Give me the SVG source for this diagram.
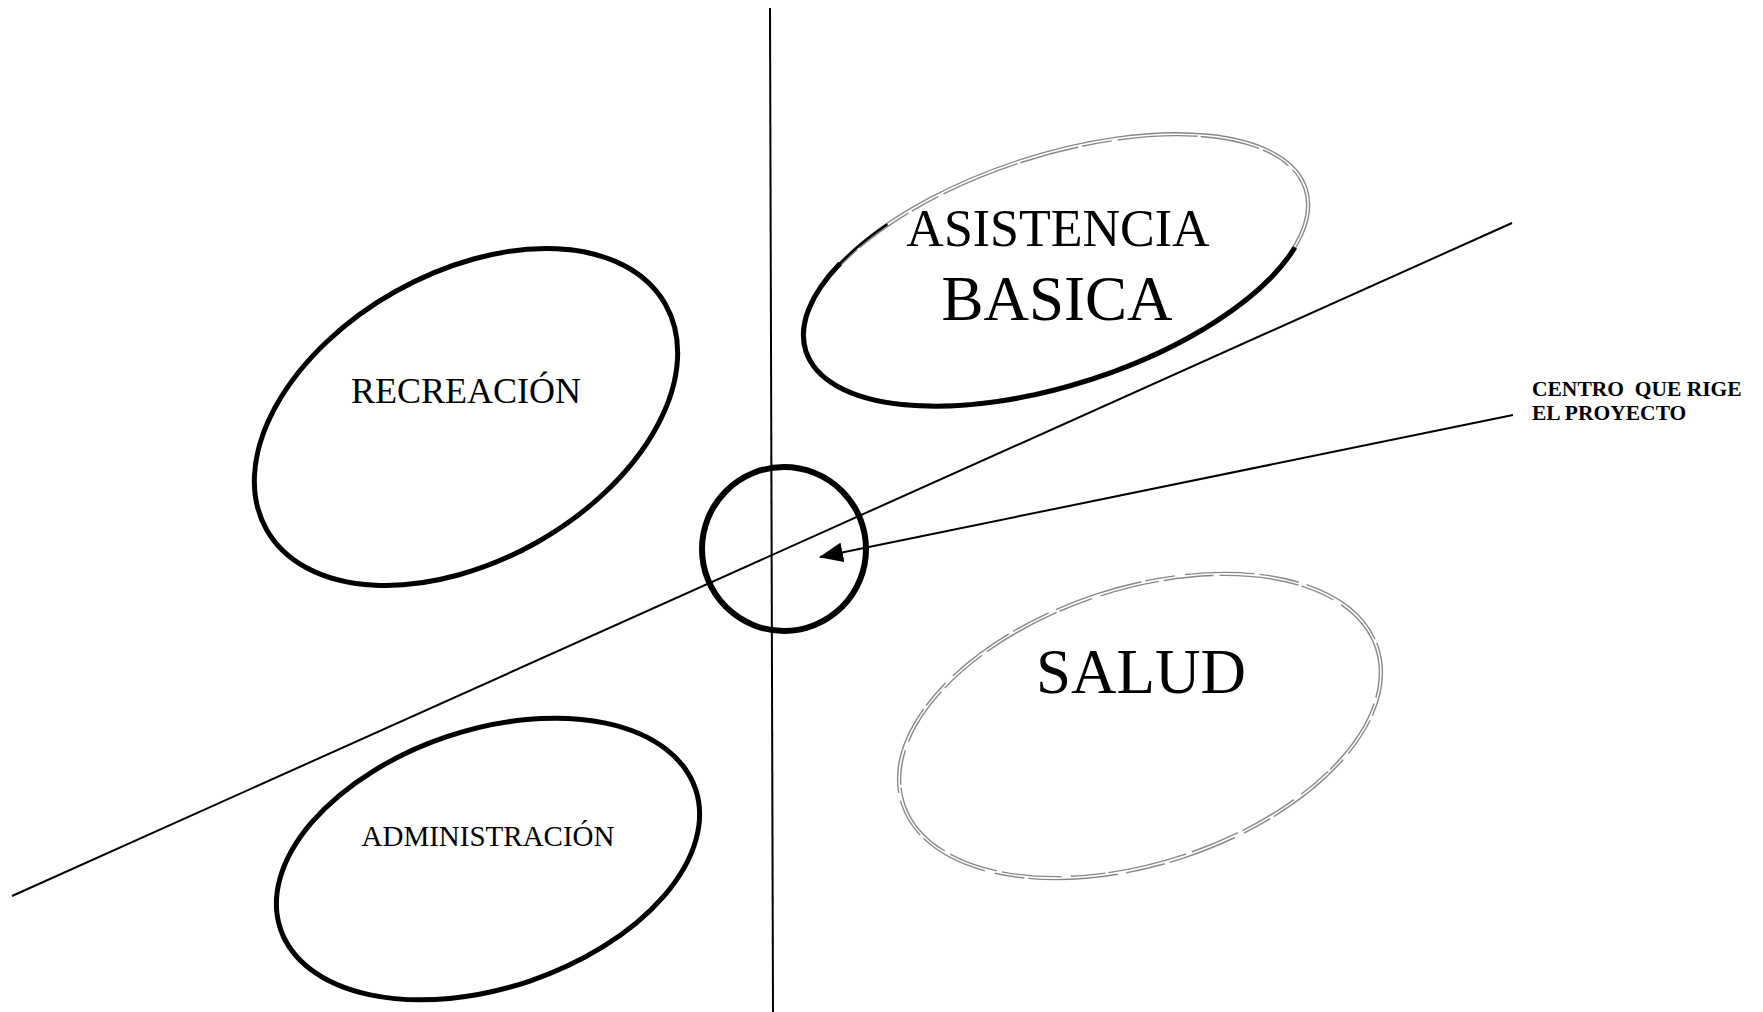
<svg xmlns="http://www.w3.org/2000/svg" width="1763" height="1012" viewBox="0 0 1763 1012">
<defs>
<style>
.ln{stroke:#000;stroke-width:2;fill:none}
.bold{stroke:#000;stroke-width:5;fill:none}
.faint{stroke:#888;stroke-width:1.4;fill:none}
.lbl{font-family:"Liberation Serif","Times New Roman",serif;fill:#000;text-anchor:middle}
.note{font-family:"Liberation Serif","Times New Roman",serif;font-weight:bold;font-size:21.5px;fill:#000}
</style>
<marker id="arr" viewBox="0 0 24 20" refX="23" refY="10" markerWidth="24" markerHeight="20" markerUnits="userSpaceOnUse" orient="auto">
<path d="M0,0 L24,10 L0,20 Z" fill="#000"/>
</marker>
</defs>
<rect width="1763" height="1012" fill="#fff"/>
<g id="connectors">
<line class="ln" x1="770" y1="8" x2="773" y2="1012"/>
<line class="ln" x1="12" y1="896" x2="1512" y2="223"/>
<line class="ln" x1="1513" y1="415" x2="820" y2="557" marker-end="url(#arr)"/>
</g>
<g id="centro">
<circle cx="784" cy="549" r="82" fill="none" stroke="#000" stroke-width="6"/>
</g>
<g id="recreacion">
<ellipse class="bold" cx="466" cy="417" rx="229" ry="144" transform="rotate(-29.4 466 417)"/>
<text class="lbl" x="466" y="403" font-size="36">RECREACIÓN</text>
</g>
<g id="administracion">
<ellipse class="bold" cx="488" cy="859" rx="219" ry="129" transform="rotate(-18.6 488 859)"/>
<text class="lbl" x="488" y="846" font-size="29">ADMINISTRACIÓN</text>
</g>
<g id="asistencia">
<ellipse class="faint" cx="1056" cy="270" rx="264" ry="116" transform="rotate(-18 1056 270)"/>
<ellipse class="faint" cx="1056" cy="270" rx="261" ry="113" transform="rotate(-18 1056 270)" stroke-dasharray="60 4 30 6 80 3"/>
<ellipse class="bold" cx="1056" cy="270" rx="263" ry="115" transform="rotate(-18 1056 270)" pathLength="100" stroke-dasharray="0 5 53 42" stroke-width="4.5"/>
<ellipse cx="1056" cy="270" rx="263" ry="115" transform="rotate(-18 1056 270)" pathLength="100" stroke-dasharray="0 57 6 37" stroke="#000" stroke-width="2.5" fill="none"/>
<text class="lbl" x="1058" y="246" font-size="52">ASISTENCIA</text>
<text class="lbl" x="1057" y="320" font-size="63">BASICA</text>
</g>
<g id="salud">
<ellipse class="faint" cx="1140" cy="726" rx="251" ry="139" transform="rotate(-18.2 1140 726)" stroke-dasharray="70 5 40 8 90 4 30 10"/>
<ellipse class="faint" cx="1140" cy="726" rx="248" ry="136" transform="rotate(-18.2 1140 726)" stroke-dasharray="50 6 80 3 35 9 60 5"/>
<text class="lbl" x="1141" y="693" font-size="63">SALUD</text>
</g>
<g id="nota">
<text class="note" x="1532" y="396" xml:space="preserve">CENTRO  QUE RIGE</text>
<text class="note" x="1532" y="420">EL PROYECTO</text>
</g>
</svg>
